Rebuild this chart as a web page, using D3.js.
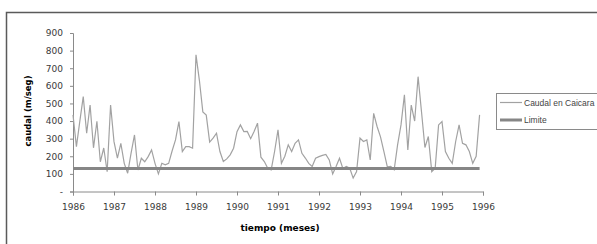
<!DOCTYPE html>
<html>
<head>
<meta charset="utf-8">
<script src="https://cdn.jsdelivr.net/npm/d3@7"></script>
<style>
  body { margin: 0; background: #fff; }
  svg { display: block; font-family: "DejaVu Sans", sans-serif; }
</style>
</head>
<body>
<div id="chart"></div>
<script>
// caudal mensual (m3/seg), ene 1986 .. dic 1995
var caudal = [
  435, 255, 400, 539, 331, 491, 248, 399, 169, 247, 112, 491,
  283, 189, 273, 160, 104, 218, 321, 122, 189, 169, 198, 236,
  160, 100, 160, 151, 160, 230, 293, 397, 227, 255, 255, 246,
  776, 630, 452, 434, 280, 303, 331, 227, 170, 185, 208, 246,
  340, 378, 340, 341, 300, 341, 388, 195, 170, 132, 123, 227,
  350, 160, 200, 265, 227, 274, 293, 217, 190, 160, 142, 189,
  198, 205, 210, 179, 100, 142, 189, 130, 142, 132, 76, 113,
  303, 284, 293, 179, 444, 369, 310, 227, 140, 142, 123, 265,
  378, 549, 236, 491, 400, 652, 453, 250, 312, 113, 132, 378,
  397, 227, 189, 160, 284, 378, 274, 265, 227, 160, 200, 435
];
var limite = 130;
var years = ["1986", "1987", "1988", "1989", "1990", "1991", "1992", "1993", "1994", "1995", "1996"];
var yTicks = [0, 100, 200, 300, 400, 500, 600, 700, 800, 900];
var seriesNames = ["Caudal en Caicara", "Limite"];

var width = 597, height = 244;
var margin = {top: 33, left: 73, right: 114, bottom: 52.5};

var svg = d3.select("#chart").append("svg")
    .attr("width", width)
    .attr("height", height);

// outer frame
svg.append("rect")
    .attr("x", 6.5).attr("y", 12.5)
    .attr("width", 600).attr("height", 260)
    .attr("fill", "none")
    .attr("stroke", "#5a5a5a")
    .attr("stroke-width", 1.5);

var x = d3.scaleLinear()
    .domain([0, caudal.length])
    .range([margin.left, width - margin.right]);

var y = d3.scaleLinear()
    .domain([0, 900])
    .range([height - margin.bottom, margin.top]);

var yAxis = d3.axisLeft(y)
    .tickValues(yTicks)
    .tickSize(3)
    .tickPadding(7)
    .tickFormat(function (d) { return d === 0 ? "-" : d; });

var xAxis = d3.axisBottom(x)
    .tickValues(years.map(function (d, i) { return i * 12; }))
    .tickSize(4)
    .tickPadding(8)
    .tickFormat(function (d, i) { return years[i]; });

var gY = svg.append("g")
    .attr("transform", "translate(" + margin.left + ",0)")
    .call(yAxis);

var gX = svg.append("g")
    .attr("transform", "translate(0," + y(0) + ")")
    .call(xAxis);

[gX, gY].forEach(function (g) {
    g.select(".domain").attr("stroke", "#8a8a8a");
    g.selectAll(".tick line").attr("stroke", "#8a8a8a");
    g.selectAll(".tick text")
        .attr("fill", "#3a3a3a")
        .style("font-size", "9px")
        .style("font-family", "DejaVu Sans, sans-serif");
});

// series
var line = d3.line()
    .x(function (d, i) { return x(i); })
    .y(function (d) { return y(d); });

svg.append("path")
    .datum(caudal)
    .attr("fill", "none")
    .attr("stroke", "#a2a2a2")
    .attr("stroke-width", 1.2)
    .attr("d", line);

// limit line
svg.append("line")
    .attr("x1", x(0))
    .attr("x2", x(caudal.length - 1))
    .attr("y1", y(limite))
    .attr("y2", y(limite))
    .attr("stroke", "#868686")
    .attr("stroke-width", 3);

// axis titles
svg.append("text")
    .attr("transform", "translate(31," + 111 + ") rotate(-90)")
    .attr("text-anchor", "middle")
    .style("font-size", "8.5px")
    .style("font-weight", "bold")
    .text("caudal (m/seg)");

svg.append("text")
    .attr("x", 280)
    .attr("y", 231)
    .attr("text-anchor", "middle")
    .style("font-size", "9px")
    .style("font-weight", "bold")
    .text("tiempo (meses)");

// legend
var legend = svg.append("g").attr("transform", "translate(496,93)");
legend.append("rect")
    .attr("x", 0.5).attr("y", 0.5)
    .attr("width", 120).attr("height", 36)
    .attr("fill", "#fff")
    .attr("stroke", "#8a8a8a");

var styles = [{c: "#a2a2a2", w: 1.2}, {c: "#868686", w: 3}];
seriesNames.forEach(function (name, i) {
    var yy = 9.5 + i * 17.5;
    legend.append("line")
        .attr("x1", 4).attr("x2", 26)
        .attr("y1", yy).attr("y2", yy)
        .attr("stroke", styles[i].c)
        .attr("stroke-width", styles[i].w);
    legend.append("text")
        .attr("x", 28).attr("y", yy + 3.2)
        .attr("fill", "#444")
        .style("font-size", "8.5px")
        .style("font-family", "Liberation Sans, sans-serif")
        .text(name);
});
</script>
</body>
</html>
